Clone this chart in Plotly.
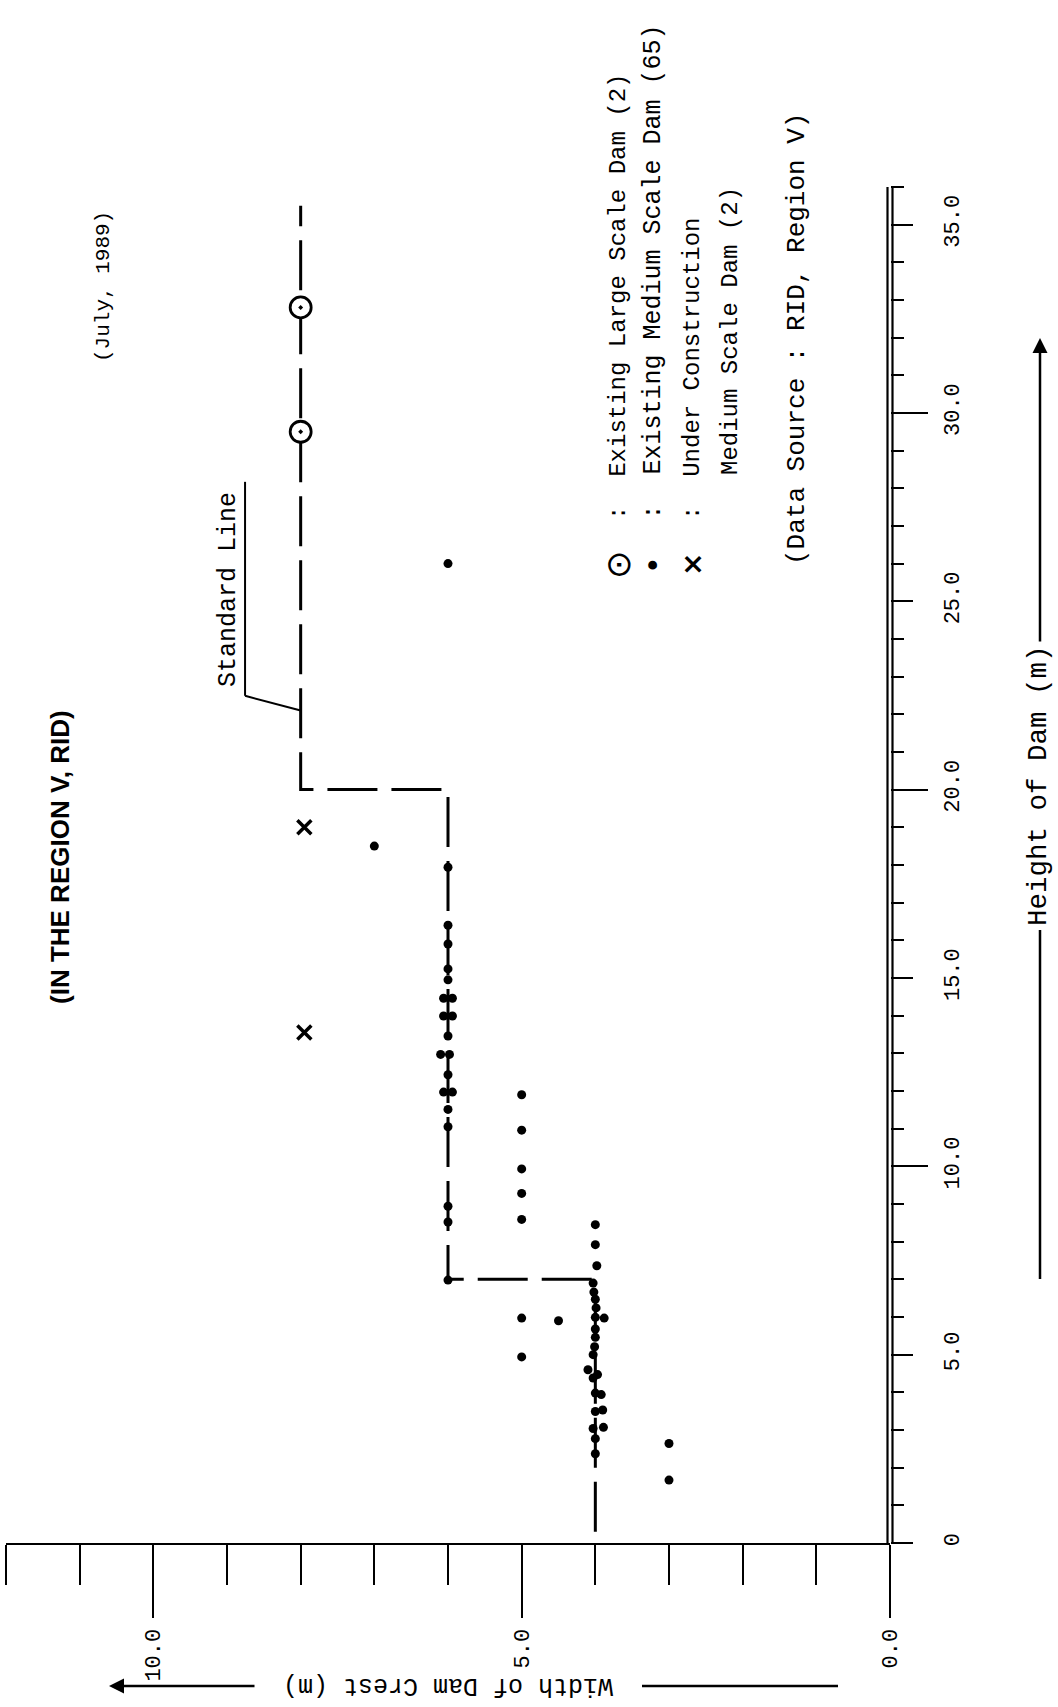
import plotly.graph_objects as go

# ---- data -------------------------------------------------------------
# standard crest width (m) against dam height (m), drawn as a step line
std_width = [4.0, 4.0, 6.0, 6.0, 8.0, 8.0]
std_height = [0.3, 7.0, 7.0, 20.0, 20.0, 35.5]

# existing large scale dams (2)
large_width = [8.0, 8.0]
large_height = [29.5, 32.8]

# existing medium scale dams
medium_width = [
    4.0, 4.0, 3.98, 4.03, 4.02, 4.0, 3.99, 4.0, 3.88, 4.0, 4.0, 4.01, 4.03,
    4.1, 3.97, 4.03, 4.0, 3.92, 4.0, 3.9, 4.03, 3.89, 4.0, 4.0,
    6.0, 6.0, 6.0, 6.0, 6.0, 6.06, 5.94, 6.06, 5.94, 6.0, 6.1, 5.98, 6.0,
    6.06, 5.94, 6.0, 6.0, 6.0, 6.0, 6.0,
    5.0, 5.0, 5.0, 5.0, 5.0, 5.0, 5.0,
    3.0, 3.0, 4.5, 7.0, 6.0,
]
medium_height = [
    8.45, 7.92, 7.36, 6.9, 6.66, 6.47, 6.24, 5.99, 5.97, 5.68, 5.46, 5.21, 5.0,
    4.6, 4.47, 4.38, 3.98, 3.94, 3.49, 3.53, 3.04, 3.07, 2.77, 2.37,
    17.94, 16.4, 15.9, 15.24, 14.95, 14.46, 14.46, 13.99, 13.99, 13.46, 12.97, 12.97, 12.43,
    11.97, 11.97, 11.51, 11.05, 8.94, 8.52, 6.98,
    4.94, 5.97, 8.59, 9.28, 9.93, 10.96, 11.9,
    2.64, 1.67, 5.9, 18.5, 26.0,
]

# medium scale dams under construction (2)
constr_width = [7.95, 7.95]
constr_height = [13.55, 19.0]

# axis labels
width_ticks = [0, 5, 10]
width_ticktext = ["0.0", "5.0", "10.0"]
height_ticks = [0, 5, 10, 15, 20, 25, 30, 35]
height_ticktext = ["0", "5.0", "10.0", "15.0", "20.0", "25.0", "30.0", "35.0"]
height_long_ticks = [10, 20, 30]

# ---- page geometry ----------------------------------------------------
W, H = 1058, 1707
ML, MR, MT, MB = 6, 168, 185, 164
PW, PH = W - ML - MR, H - MT - MB
Y_RANGE = [0, 36.05]

def px(xpix):
    return (xpix - ML) / PW

def py(ypix):
    return (H - MB - ypix) / PH

MONO = "Liberation Mono, Courier New, monospace"
SANS = "Liberation Sans, Arial, sans-serif"

fig = go.Figure()

fig.add_trace(go.Scatter(
    x=std_width, y=std_height, mode="lines",
    line=dict(color="black", width=3, dash="50px,14px"),
    hoverinfo="skip",
))
# same step line on the overlay axis that carries the long 10 m ticks (invisible)
fig.add_trace(go.Scatter(
    x=std_width, y=std_height, mode="lines", yaxis="y2",
    line=dict(color="rgba(0,0,0,0)", width=0), hoverinfo="skip",
))
fig.add_trace(go.Scatter(
    x=medium_width, y=medium_height, mode="markers",
    marker=dict(symbol="circle", size=9, color="black"),
    name="Existing Medium Scale Dam",
))
fig.add_trace(go.Scatter(
    x=large_width, y=large_height, mode="markers",
    marker=dict(symbol="circle-dot", size=21, color="white",
                line=dict(color="black", width=2.8)),
    name="Existing Large Scale Dam",
))
fig.add_trace(go.Scatter(
    x=constr_width, y=constr_height, mode="markers",
    marker=dict(symbol="x-thin-open", size=14, color="black",
                line=dict(color="black", width=3.5)),
    name="Under Construction",
))

shapes = []
# double line of the height axis (paper-referenced in x so it is not clipped)
for off in (-2.5, 2.5):
    shapes.append(dict(type="line", xref="paper", yref="y", x0=1 + off / PW, x1=1 + off / PW,
                       y0=0, y1=36, line=dict(color="black", width=2.2)))
# "Standard Line" underline and leader
shapes.append(dict(type="line", xref="x", yref="y", x0=8.755, x1=8.755, y0=22.49, y1=28.17,
                   line=dict(color="black", width=2)))
shapes.append(dict(type="line", xref="x", yref="y", x0=8.755, x1=8.0, y0=22.49, y1=22.1,
                   line=dict(color="black", width=2)))
# rules beside the axis titles
TITLE_Y = 1686
shapes.append(dict(type="line", xref="paper", yref="paper", x0=px(1040), x1=px(1040),
                   y0=py(930), y1=py(1279), line=dict(color="black", width=2.5)))
shapes.append(dict(type="line", xref="paper", yref="paper", x0=px(642), x1=px(838),
                   y0=py(TITLE_Y), y1=py(TITLE_Y), line=dict(color="black", width=2.5)))

ann = []

def text(t, x, y, size, angle=-90, family=MONO, xanchor="center", yanchor="middle"):
    ann.append(dict(text=t, x=px(x), y=py(y), xref="paper", yref="paper",
                    showarrow=False, textangle=angle, xanchor=xanchor, yanchor=yanchor,
                    font=dict(family=family, size=size, color="black")))

text("<b>(IN THE REGION V, RID)</b>", 60, 857, 26, family=SANS)
text("(July, 1989)", 104, 287, 21)
text("Standard Line", 228, 590, 25)

# legend block
text("⊙", 618, 565, 34, family="DejaVu Sans")
text("•", 653, 565, 30, family="DejaVu Sans")
text("<b>×</b>", 692, 565, 28, family="DejaVu Sans")
text(":  Existing Large Scale Dam (2)", 618, 522, 24, yanchor="bottom")
text(":  Existing Medium Scale Dam (65)", 653, 522, 25, yanchor="bottom")
text(":  Under Construction", 692, 522, 24, yanchor="bottom")
text("Medium Scale Dam (2)", 730, 477, 24, yanchor="bottom")
text("(Data Source : RID, Region V)", 797, 567, 26, yanchor="bottom")

# axis titles
text("Height of Dam (m)", 1038, 786, 27.5)
text("Width of Dam Crest (m)", 448, TITLE_Y, 25, angle=180)

# arrows on the title rules
ann.append(dict(x=px(1040), y=py(338), xref="paper", yref="paper", text="",
                showarrow=True, ax=0, ay=305, arrowhead=2, arrowsize=1.2,
                arrowwidth=2.5, arrowcolor="black"))
ann.append(dict(x=px(109), y=py(TITLE_Y), xref="paper", yref="paper", text="",
                showarrow=True, ax=147, ay=0, arrowhead=2, arrowsize=1.2,
                arrowwidth=2.5, arrowcolor="black"))

fig.update_layout(
    width=W, height=H,
    margin=dict(l=ML, r=MR, t=MT, b=MB),
    paper_bgcolor="white", plot_bgcolor="white",
    showlegend=False,
    shapes=shapes, annotations=ann,
    xaxis=dict(
        range=[12, 0], showgrid=False, zeroline=False,
        showline=True, linecolor="black", linewidth=2,
        tickmode="array", tickvals=width_ticks, ticktext=width_ticktext,
        ticks="outside", ticklen=73, tickwidth=2, tickcolor="black",
        tickangle=-90, ticklabelstandoff=2,
        tickfont=dict(family=MONO, size=22, color="black"),
        minor=dict(dtick=1, ticks="outside", ticklen=40, tickwidth=2, tickcolor="black"),
    ),
    yaxis=dict(
        range=Y_RANGE, showgrid=False, zeroline=False, showline=False,
        side="right",
        tickmode="array", tickvals=height_ticks, ticktext=height_ticktext,
        ticks="outside", ticklen=22, tickwidth=2, tickcolor="black",
        tickangle=-90, ticklabelstandoff=20,
        tickfont=dict(family=MONO, size=22, color="black"),
        minor=dict(dtick=1, ticks="outside", ticklen=13, tickwidth=2, tickcolor="black"),
    ),
    yaxis2=dict(
        range=Y_RANGE, overlaying="y", anchor="x", side="right",
        showgrid=False, zeroline=False, showline=False, showticklabels=False,
        tickmode="array", tickvals=height_long_ticks,
        ticks="outside", ticklen=37, tickwidth=2, tickcolor="black",
    ),
)

fig.write_html("out.html")
